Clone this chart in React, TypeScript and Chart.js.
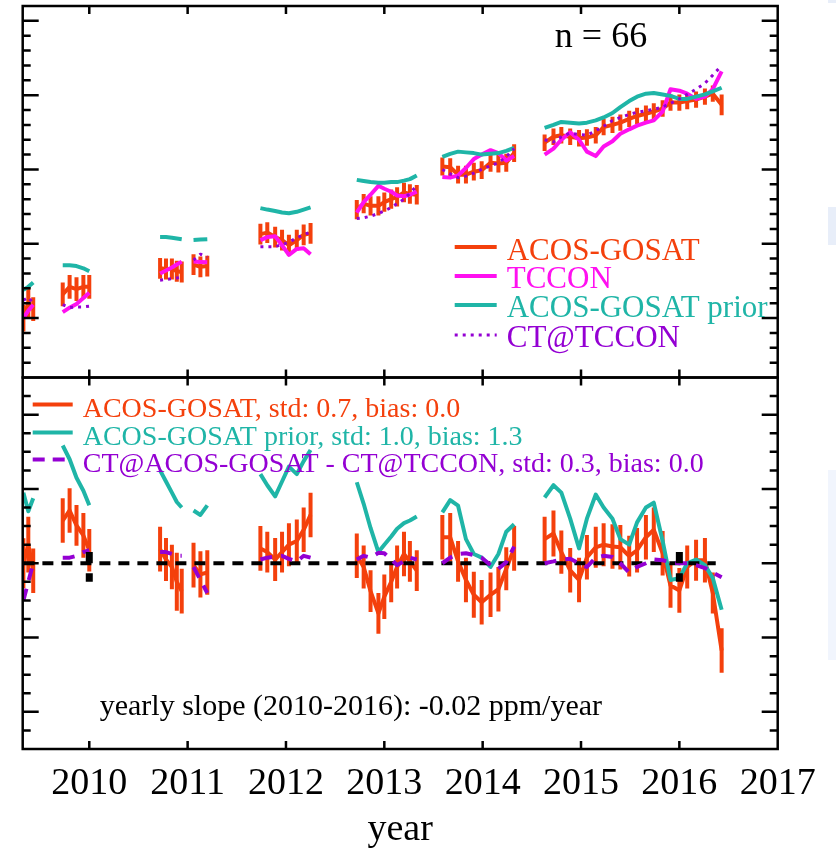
import React, { useEffect, useRef } from "react";
import { Chart, registerables } from "chart.js";

Chart.register(...registerables);

// ---------- data ----------
const dates = [
  2009.33, 2009.38, 2009.43,
  2009.73, 2009.8, 2009.87, 2009.94, 2010.0,
  2010.72, 2010.78, 2010.84, 2010.89, 2010.94,
  2011.06, 2011.13, 2011.2,
  2011.74, 2011.81, 2011.89, 2011.96, 2012.03, 2012.11, 2012.18, 2012.25,
  2012.72, 2012.79, 2012.86, 2012.94, 2013.0, 2013.07, 2013.13, 2013.2, 2013.26, 2013.33,
  2013.59, 2013.67, 2013.75, 2013.83, 2013.91, 2013.99, 2014.08, 2014.16, 2014.24, 2014.32,
  2014.63, 2014.72, 2014.8, 2014.89, 2014.98, 2015.06, 2015.15, 2015.23, 2015.32, 2015.4, 2015.49,
  2015.57, 2015.66, 2015.74, 2015.83, 2015.91, 2016.0, 2016.08, 2016.17, 2016.26, 2016.34, 2016.43,
];

const acos = [
  385.0, 386.0, 385.6,
  386.6, 387.1, 386.95, 387.1, 387.1,
  388.35, 388.3, 388.3, 388.15, 388.1,
  388.6, 388.45, 388.5,
  390.65, 390.75, 390.45, 390.25, 389.9, 390.25, 390.6, 390.7,
  392.3, 392.7, 392.55, 392.55, 392.8, 393.0, 393.15, 393.45, 393.35, 393.3,
  395.2, 395.15, 394.65, 394.65, 394.85, 394.95, 395.45, 395.4, 395.45, 396.1,
  396.8, 397.2, 397.3, 397.2, 397.1, 397.15, 397.3, 397.85, 398.0, 398.15, 398.4,
  398.6, 398.75, 398.9, 399.1, 399.5, 399.5, 399.6, 399.7, 399.9, 400.1, 399.35,
];

const acosErr = [
  0.9, 1.0, 0.8,
  0.8, 0.8, 0.8, 0.8, 0.8,
  0.7, 0.7, 0.7, 0.7, 0.7,
  0.7, 0.7, 0.7,
  0.7, 0.7, 0.7, 0.7, 0.7, 0.7, 0.7, 0.7,
  0.65, 0.65, 0.65, 0.65, 0.65, 0.65, 0.65, 0.65, 0.65, 0.65,
  0.6, 0.6, 0.6, 0.6, 0.6, 0.6, 0.6, 0.6, 0.6, 0.6,
  0.55, 0.55, 0.55, 0.55, 0.55, 0.55, 0.55, 0.55, 0.55, 0.55, 0.55,
  0.55, 0.55, 0.55, 0.55, 0.55, 0.55, 0.55, 0.55, 0.55, 0.55, 0.7,
];

const tccon = [
  385.0, 385.5, 385.9,
  385.4, 385.7, 385.95, 386.35, 386.7,
  388.0, 388.2, 388.4, 388.6, 388.8,
  388.8, 388.77, 388.75,
  390.25, 390.45, 390.5, 389.9, 389.25, 389.65, 389.7, 389.3,
  392.1, 392.8, 393.3, 393.9, 393.7, 393.5, 393.25, 393.2, 393.3, 393.5,
  394.5, 394.45, 394.6, 395.1, 395.7, 396.0, 396.3, 396.1, 395.6, 395.9,
  396.0, 396.4, 397.0, 397.5, 397.0, 396.2, 395.9, 396.55, 396.9, 397.4, 397.7,
  397.95, 398.15, 398.3, 398.9, 400.4, 400.3, 400.1, 399.75, 399.9, 400.4, 401.6,
];

const prior = [
  386.9, 387.1, 387.4,
  388.55, 388.55, 388.5, 388.35, 388.15,
  390.45, 390.45, 390.4, 390.35, 390.3,
  390.25, 390.28, 390.3,
  392.4, 392.3, 392.2, 392.1, 392.05, 392.15, 392.3, 392.45,
  394.3, 394.22, 394.15, 394.1, 394.1, 394.15, 394.15, 394.25, 394.35, 394.6,
  395.85, 396.05, 396.2, 396.15, 396.1, 396.0, 396.05, 396.1, 396.25, 396.45,
  397.8, 398.0, 398.2, 398.15, 398.1, 398.15, 398.3, 398.5, 398.8, 399.2, 399.6,
  399.9, 400.1, 400.15, 400.05, 399.95, 399.75, 399.75, 399.9, 400.05, 400.25, 400.5,
];

const ctTccon = [
  386.2, 386.4, 386.0,
  385.9, 385.7, 385.75, 385.75, 385.8,
  387.55, 387.6, 387.65, 387.7, 387.75,
  388.9, 389.3, 389.1,
  389.8, 389.8, 389.8, 389.95, 390.1, 390.4, 390.6, 390.8,
  391.7, 391.75, 391.85, 392.05, 392.2, 392.45, 392.7, 393.0, 393.4, 393.9,
  395.0, 394.7, 394.45, 394.55, 394.75, 395.0, 395.25, 395.45, 395.85, 396.4,
  397.0, 396.85, 397.2, 397.45, 397.35, 397.3, 397.6, 397.9, 398.3, 398.5, 398.7,
  398.85, 398.95, 399.05, 399.2, 399.45, 399.75, 400.05, 400.4, 400.8, 401.35, 402.0,
];

const acosDiff = [
  0.0, 0.5, -0.2,
  1.15, 1.42, 1.02, 0.75, 0.35,
  0.38, 0.1, -0.1, -0.5, -0.75,
  -0.05, -0.3, -0.25,
  0.4, 0.3, 0.1, 0.3, 0.5, 0.6, 0.9, 1.3,
  0.2, -0.1, -0.75, -1.35, -0.9, -0.5, -0.1, 0.25, 0.05, -0.2,
  0.7, 0.7, 0.05, -0.45, -0.85, -1.05, -0.85, -0.7, -0.15, 0.4,
  0.65, 0.8, 0.3, -0.19, -0.45, 0.16, 0.43, 0.5, 0.45, 0.43, 0.19,
  0.35, 0.7, 0.9, 0.27, -0.6, -0.73, -0.1, 0.08, 0.08, -0.8, -2.35,
];

const acosDiffErr = [
  0.67, 0.75, 0.6,
  0.6, 0.6, 0.55, 0.6, 0.57,
  0.6, 0.58, 0.6, 0.78, 0.6,
  0.6, 0.62, 0.6,
  0.6, 0.55, 0.58, 0.55, 0.58, 0.58, 0.6, 0.6,
  0.6, 0.58, 0.56, 0.55, 0.6, 0.55, 0.58, 0.6, 0.55, 0.55,
  0.6, 0.65, 0.55, 0.6, 0.62, 0.6, 0.6, 0.6, 0.58, 0.6,
  0.6, 0.62, 0.58, 0.6, 0.6, 0.6, 0.55, 0.58, 0.6, 0.6, 0.55,
  0.6, 0.6, 0.6, 0.6, 0.6, 0.6, 0.58, 0.55, 0.6, 0.55, 0.6,
];

const priorDiff = [
  1.9, 1.4, 1.75,
  3.17, 2.8, 2.3, 1.95, 1.56,
  2.5, 2.2, 1.9, 1.65, 1.5,
  1.42, 1.3, 1.56,
  2.4, 2.1, 1.8, 2.2, 2.6, 2.4, 2.75, 3.05,
  2.18, 1.6, 0.95, 0.3, 0.5, 0.72, 0.93, 1.08, 1.15, 1.26,
  1.37, 1.7, 1.55, 0.65, 0.25, 0.15, -0.1, 0.25, 0.85, 1.05,
  1.77, 2.1, 1.9, 1.2, 0.4, 1.2, 1.85, 1.5, 1.2, 0.65, 0.5,
  1.1, 1.5, 1.63, 0.6, -0.45, -0.4, 0.0, 0.1, -0.05, -0.4, -1.25,
];

const ctDiff = [
  -1.0, -0.5, 0.0,
  0.15, 0.15, 0.2, 0.3, 0.35,
  0.3, 0.3, 0.25, 0.2, 0.2,
  -0.1, -0.45, -0.8,
  0.1, 0.15, 0.18, 0.2, 0.12, 0.05, 0.2, 0.15,
  0.1, 0.2, 0.15, 0.28, 0.27, 0.1, -0.05, 0.05, 0.15, 0.1,
  0.0, 0.15, 0.25, 0.27, 0.22, 0.15, -0.05, -0.15, 0.03, 0.45,
  0.0, 0.05, 0.1, 0.12, 0.0, -0.1, 0.15, 0.2, 0.17, 0.0, -0.25,
  -0.1, 0.0, 0.1, 0.08, 0.03, 0.0, 0.0, -0.05, -0.13, -0.25, -0.38,
];

const zeroLineYears = [2009.33, 2016.37];
const markYears = [2010.0, 2016.0];
const markUpper = [0.3, 0.3];
const markGapTop = [0.0, 0.0];
const markGapBottom = [-0.27, -0.27];
const markLower = [-0.5, -0.5];

const xTickYears = [2010, 2011, 2012, 2013, 2014, 2015, 2016, 2017];
const xMin = 2009.323;
const xMax = 2017.0;
const topMin = 381;
const topMax = 406;
const topMajorTicks = [385, 390, 395, 400, 405];
const topMinorStep = 1;
const botMin = -5;
const botMax = 5;
const botMajorTicks = [-4, -2, 0, 2, 4];
const botMinorStep = 0.5;

const topLegend = ["ACOS-GOSAT", "TCCON", "ACOS-GOSAT prior", "CT@TCCON"];
const botLegend = [
  "ACOS-GOSAT, std: 0.7, bias: 0.0",
  "ACOS-GOSAT prior, std: 1.0, bias: 1.3",
  "CT@ACOS-GOSAT - CT@TCCON, std: 0.3, bias: 0.0",
];
const countLabel = "n = 66";
const slopeLabel = "yearly slope (2010-2016): -0.02 ppm/year";
const xTitle = "year";

// ---------- styles ----------
const ORANGE = "#F4400C";
const MAGENTA = "#FF10F0";
const TEAL = "#1FB5A7";
const PURPLE = "#9400D3";
const SERIF = '"Liberation Serif", "Times New Roman", serif';

function withGaps(vals: number[]) {
  const pts: { x: number; y: number | null }[] = [];
  for (let i = 0; i < dates.length; i++) {
    if (i > 0 && dates[i] - dates[i - 1] > 0.1) {
      pts.push({ x: (dates[i] + dates[i - 1]) / 2, y: null });
    }
    pts.push({ x: dates[i], y: vals[i] });
  }
  return pts;
}

const panelPlugin = {
  id: "panelDecor",
  beforeDraw(chart: any) {
    const { ctx } = chart;
    ctx.save();
    ctx.fillStyle = "#fff";
    ctx.fillRect(0, 0, chart.width, chart.height);
    // faint backdrop strips at the right edge of the screenshot
    ctx.fillStyle = "#E8EEF9";
    ctx.fillRect(828, 0, 8, 3);
    ctx.fillRect(828, 207, 8, 38);
    ctx.fillStyle = "#F1F5FD";
    ctx.fillRect(828, 470, 8, 190);
    ctx.restore();
  },
  beforeDatasetsDraw(chart: any) {
    const { ctx, chartArea } = chart;
    const xs = chart.scales.x;
    const yT = chart.scales.yTop;
    const yB = chart.scales.yBot;
    ctx.save();
    ctx.beginPath();
    ctx.rect(chartArea.left, chartArea.top, chartArea.right - chartArea.left, chartArea.bottom - chartArea.top);
    ctx.clip();
    ctx.strokeStyle = ORANGE;
    ctx.lineWidth = 4;
    ctx.lineCap = "butt";
    for (let i = 0; i < dates.length; i++) {
      const px = xs.getPixelForValue(dates[i]);
      ctx.beginPath();
      ctx.moveTo(px, yT.getPixelForValue(acos[i] - acosErr[i]));
      ctx.lineTo(px, yT.getPixelForValue(acos[i] + acosErr[i]));
      ctx.stroke();
      ctx.beginPath();
      ctx.moveTo(px, yB.getPixelForValue(acosDiff[i] - acosDiffErr[i]));
      ctx.lineTo(px, yB.getPixelForValue(acosDiff[i] + acosDiffErr[i]));
      ctx.stroke();
    }
    ctx.restore();
  },
  afterDatasetsDraw(chart: any) {
    const { ctx } = chart;
    const xs = chart.scales.x;
    const yB = chart.scales.yBot;
    ctx.save();
    ctx.strokeStyle = "#000";
    ctx.lineWidth = 7;
    ctx.lineCap = "butt";
    for (let i = 0; i < markYears.length; i++) {
      const px = xs.getPixelForValue(markYears[i]);
      ctx.beginPath();
      ctx.moveTo(px, yB.getPixelForValue(markUpper[i]));
      ctx.lineTo(px, yB.getPixelForValue(markGapTop[i]));
      ctx.moveTo(px, yB.getPixelForValue(markGapBottom[i]));
      ctx.lineTo(px, yB.getPixelForValue(markLower[i]));
      ctx.stroke();
    }
    ctx.restore();
  },
  afterDraw(chart: any) {
    const { ctx } = chart;
    const xs = chart.scales.x;
    const yT = chart.scales.yTop;
    const yB = chart.scales.yBot;
    const L = xs.left;
    const R = xs.right;
    ctx.save();
    ctx.strokeStyle = "#000";
    ctx.lineCap = "butt";

    const panels = [
      { s: yT, min: topMin, max: topMax, majors: topMajorTicks, step: topMinorStep },
      { s: yB, min: botMin, max: botMax, majors: botMajorTicks, step: botMinorStep },
    ];
    for (const p of panels) {
      const T = p.s.top;
      const B = p.s.bottom;
      ctx.lineWidth = 2.5;
      ctx.strokeRect(L, T, R - L, B - T);
      ctx.beginPath();
      for (const yr of xTickYears) {
        const px = xs.getPixelForValue(yr);
        if (px <= L + 1 || px >= R - 1) continue;
        ctx.moveTo(px, T);
        ctx.lineTo(px, T + 8);
        ctx.moveTo(px, B);
        ctx.lineTo(px, B - 8);
      }
      const n = Math.round((p.max - p.min) / p.step);
      for (let k = 1; k < n; k++) {
        const v = p.min + k * p.step;
        const py = p.s.getPixelForValue(v);
        const major = p.majors.some((m: number) => Math.abs(m - v) < 1e-6);
        const len = major ? 16 : 8;
        ctx.moveTo(L, py);
        ctx.lineTo(L + len, py);
        ctx.moveTo(R, py);
        ctx.lineTo(R - len, py);
      }
      ctx.stroke();
    }

    // top legend
    const tTop = yT.top;
    const topColors = [ORANGE, MAGENTA, TEAL, PURPLE];
    const topLineY = [241, 270, 299, 329];
    const topTextY = [254, 282, 311, 341];
    ctx.font = `31px ${SERIF}`;
    ctx.textBaseline = "alphabetic";
    ctx.textAlign = "left";
    for (let i = 0; i < topLegend.length; i++) {
      ctx.strokeStyle = topColors[i];
      ctx.lineWidth = i === 3 ? 3 : 4;
      ctx.setLineDash(i === 3 ? [3, 5] : []);
      ctx.beginPath();
      ctx.moveTo(L + 432, tTop + topLineY[i]);
      ctx.lineTo(L + 474, tTop + topLineY[i]);
      ctx.stroke();
      ctx.setLineDash([]);
      ctx.fillStyle = topColors[i];
      ctx.fillText(topLegend[i], L + 484, tTop + topTextY[i]);
    }

    // n = 66
    ctx.fillStyle = "#000";
    ctx.font = `36px ${SERIF}`;
    ctx.textAlign = "center";
    ctx.fillText(countLabel, 601, tTop + 41);

    // bottom legend
    const bTop = yB.top;
    const botColors = [ORANGE, TEAL, PURPLE];
    const botLineY = [27, 55, 82];
    const botTextY = [39, 67, 94];
    ctx.font = `28px ${SERIF}`;
    ctx.textAlign = "left";
    for (let i = 0; i < botLegend.length; i++) {
      ctx.strokeStyle = botColors[i];
      ctx.lineWidth = 4;
      ctx.setLineDash(i === 2 ? [12, 8] : []);
      ctx.beginPath();
      ctx.moveTo(L + 10, bTop + botLineY[i]);
      ctx.lineTo(L + (i === 2 ? 46 : 50), bTop + botLineY[i]);
      ctx.stroke();
      ctx.setLineDash([]);
      ctx.fillStyle = botColors[i];
      ctx.fillText(botLegend[i], L + 60, bTop + botTextY[i]);
    }

    ctx.fillStyle = "#000";
    ctx.font = `30px ${SERIF}`;
    ctx.fillText(slopeLabel, L + 77, bTop + 337);
    ctx.restore();
  },
};

const baseLine = {
  pointRadius: 0,
  pointHoverRadius: 0,
  tension: 0,
  fill: false,
  spanGaps: false,
  borderCapStyle: "butt" as const,
  borderJoinStyle: "round" as const,
};

export default function App() {
  const canvasRef = useRef<HTMLCanvasElement | null>(null);

  useEffect(() => {
    document.body.style.margin = "0";
    const canvas = canvasRef.current;
    if (!canvas) return;
    const chart = new Chart(canvas, {
      type: "line",
      data: {
        datasets: [
          { ...baseLine, label: "CT@TCCON", data: withGaps(ctTccon), yAxisID: "yTop", borderColor: PURPLE, borderWidth: 3, borderDash: [3, 5] },
          { ...baseLine, label: "ACOS-GOSAT prior", data: withGaps(prior), yAxisID: "yTop", borderColor: TEAL, borderWidth: 4 },
          { ...baseLine, label: "TCCON", data: withGaps(tccon), yAxisID: "yTop", borderColor: MAGENTA, borderWidth: 4 },
          { ...baseLine, label: "ACOS-GOSAT", data: withGaps(acos), yAxisID: "yTop", borderColor: ORANGE, borderWidth: 4 },
          { ...baseLine, label: "CT diff", data: withGaps(ctDiff), yAxisID: "yBot", borderColor: PURPLE, borderWidth: 4, borderDash: [12, 9] },
          { ...baseLine, label: "zero", data: zeroLineYears.map((x) => ({ x, y: 0 })), yAxisID: "yBot", borderColor: "#000", borderWidth: 4, borderDash: [11, 8] },
          { ...baseLine, label: "prior diff", data: withGaps(priorDiff), yAxisID: "yBot", borderColor: TEAL, borderWidth: 4 },
          { ...baseLine, label: "ACOS diff", data: withGaps(acosDiff), yAxisID: "yBot", borderColor: ORANGE, borderWidth: 4 },
        ],
      },
      options: {
        animation: false,
        responsive: false,
        devicePixelRatio: 1,
        events: [],
        layout: { padding: { left: 22.7, right: 58.3, top: 6, bottom: 0 } },
        plugins: { legend: { display: false }, tooltip: { enabled: false } },
        scales: {
          x: {
            type: "linear",
            position: "bottom",
            min: xMin,
            max: xMax,
            grid: { display: false, drawTicks: false },
            border: { display: false },
            afterBuildTicks: (s: any) => {
              s.ticks = xTickYears.map((v) => ({ value: v }));
            },
            afterFit: (s: any) => {
              s.height = 113;
            },
            ticks: {
              autoSkip: false,
              maxRotation: 0,
              padding: 12,
              color: "#000",
              font: { family: SERIF, size: 38 },
              callback: (v: any) => String(v),
            },
            title: {
              display: true,
              text: xTitle,
              color: "#000",
              font: { family: SERIF, size: 38 },
              padding: { top: 0, bottom: 9 },
            },
          },
          yBot: {
            type: "linear",
            position: "left",
            stack: "panels",
            stackWeight: 1,
            weight: 1,
            min: botMin,
            max: botMax,
            grid: { display: false, drawTicks: false },
            border: { display: false },
            ticks: { display: false },
            afterFit: (s: any) => {
              s.width = 0;
            },
          },
          yTop: {
            type: "linear",
            position: "left",
            stack: "panels",
            stackWeight: 1,
            weight: 2,
            min: topMin,
            max: topMax,
            grid: { display: false, drawTicks: false },
            border: { display: false },
            ticks: { display: false },
            afterFit: (s: any) => {
              s.width = 0;
            },
          },
        },
      } as any,
      plugins: [panelPlugin],
    });
    return () => chart.destroy();
  }, []);

  return (
    <div style={{ width: 836, height: 862, background: "#fff" }}>
      <canvas ref={canvasRef} width={836} height={862} style={{ display: "block", width: 836, height: 862 }} />
    </div>
  );
}
